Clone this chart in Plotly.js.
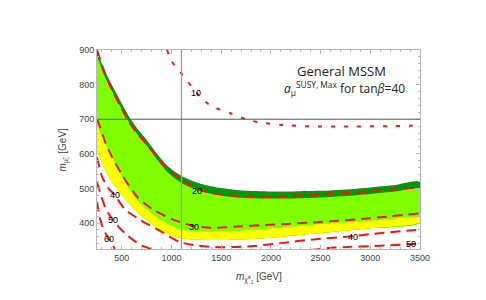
<!DOCTYPE html>
<html><head><meta charset="utf-8">
<script src="https://cdn.plot.ly/plotly-3.0.1.min.js"></script>
<style>html,body{margin:0;padding:0;background:#fff}#chart{width:486px;height:300px}</style>
</head><body><div id="chart"></div>
<script>
// Upper edge of dark green band
const b1X = [250,313,398,490,589,670,750,850,950,1035,1100,1200,1300,1500,1700,1900,2100,2300,2500,2750,3000,3250,3500];
const b1Y = [900,850,800,750,700,668,640,602,568,548,536,523,513,501,494,492,491,492,493,497,503,510,520];
// Dark green / light green boundary
const b2X = [250,313,398,490,589,670,750,850,950,1035,1100,1200,1300,1500,1700,1900,2100,2300,2500,2750,3000,3250,3500];
const b2Y = [884,833,783,734,684,652,624,585,550,529,516,502,491,479,473,471,471,472,474,478,484,491,500];
// Light green / yellow boundary
const b3X = [250,300,350,400,450,500,600,700,800,884,1000,1085,1200,1300,1500,1700,2000,2500,3000,3500];
const b3Y = [680,650,620,592,562,535,486,452,428,410,392,381,377,376,376,378,384,397,406,416];
// Yellow / white boundary
const b4X = [250,300,350,400,498,600,700,800,900,1000,1085,1200,1286,1500,1800,2100,2493,3000,3500];
const b4Y = [610,575,545,520,482,450,420,397,378,365,357,353,352,351,354,360,371,385,401];

// Contours of a_mu (labels 10..60)
const c10X = [955,1000,1085,1200,1286,1400,1588,1746,1900,2091,2423,2800,3200,3500];
const c10Y = [900,868,837,795,765,738,718,700,690,684,679,679,680,682];
const c20X = [250,320,400,480,555,650,750,850,950,1050,1150,1250,1400,1700,2100,2500,3000,3500];
const c20Y = [900,840,785,740,700,660,628,592,560,536,516,500,487,478,478,484,492,503];
const c30X = [250,280,335,400,500,657,808,1015,1216,1400,1618,1990,2493,3000,3500];
const c30Y = [700,678,632,592,540,475,440,410,392,386,389,395,403,414,428];
const c40X = [250,300,360,431,530,690,880,1085,1250,1500,1800,2100,2400,2829,3000,3500];
const c40Y = [590,535,502,480,440,408,378,345,335,330,333,342,352,362,368,381];
const c50X = [250,280,330,360,411,480,550,610,700,800,870,null,2400,2625,2800,3000,3200,3409,3500];
const c50Y = [518,490,447,430,410,385,366,352,335,325,320,null,322,329,331,333,336,339,341];
const c60X = [250,265,285,310,340,371,400,430];
const c60Y = [462,435,408,385,368,355,340,325];

const labelText = ['10','20','30','40','50','60','40','50'];
const labelX = [1243,1253,1226,431,414,371,2829,3409];
const labelY = [777,494,388,480,410,355,360,339];

const xTicks = [500,1000,1500,2000,2500,3000,3500];
const yTicks = [400,500,600,700,800,900];

function poly(xa, ya, xb, yb){
  return {x: xa.concat(xb.slice().reverse()), y: ya.concat(yb.slice().reverse())};
}
const dark = poly(b1X,b1Y,b4X,b4Y);
const light = poly(b2X,b2Y,b4X,b4Y);
const yel = poly(b3X,b3Y,b4X,b4Y);

const red = 'rgb(245,20,20)';
function band(p,color){
  return {x:p.x,y:p.y,fill:'toself',fillcolor:color,mode:'lines',type:'scatter',hoverinfo:'skip',showlegend:false,
    line:{width:0,color:color,shape:'spline',smoothing:0.5}};
}
function dashLine(x,y,dash){
  return {x:x,y:y,mode:'lines',type:'scatter',hoverinfo:'skip',showlegend:false,
    line:{color:red,width:2,dash:dash,shape:'spline',smoothing:0.6},connectgaps:false};
}
const traces = [
  band(dark,'rgb(0,155,0)'),
  band(light,'rgb(128,255,0)'),
  band(yel,'rgb(255,255,0)'),
  dashLine(c10X,c10Y,'4px,9px'),
  dashLine(c20X,c20Y,'10px,6px'),
  dashLine(c30X,c30Y,'10px,6px'),
  dashLine(c40X,c40Y,'10px,6px'),
  dashLine(c50X,c50Y,'10px,6px'),
  dashLine(c60X,c60Y,'10px,6px')
];

const sansT = 'Liberation Sans, Arial, sans-serif';
const annotations = labelText.map((t,i)=>({x:labelX[i],y:labelY[i],xref:'x',yref:'y',text:t,showarrow:false,
  xanchor:'center',yanchor:'middle',font:{family:sansT,size:9,color:'#000'}}));
annotations.push({xref:'paper',yref:'paper',x:0.758,y:0.896,xanchor:'center',yanchor:'middle',text:'General MSSM',showarrow:false,
  font:{family:'Open Sans, sans-serif',size:13,color:'#222'}});
annotations.push({xref:'paper',yref:'paper',x:0.573,y:0.805,xanchor:'left',yanchor:'middle',
  text:'<i>a</i><sub>μ</sub><sup>SUSY, Max</sup> for tan<i>β</i>=40',showarrow:false,
  font:{family:'Open Sans, sans-serif',size:12,color:'#222'}});
// axis titles
annotations.push({xref:'paper',yref:'paper',x:0.5,y:-0.145,xanchor:'center',yanchor:'middle',showarrow:false,
  text:'<i>m</i><sub>χ̃<sup>±</sup><sub>1</sub></sub> [GeV]',font:{family:sansT,size:10,color:'#444'}});
annotations.push({xref:'paper',yref:'paper',x:-0.105,y:0.5,xanchor:'center',yanchor:'middle',showarrow:false,textangle:-90,
  text:'<i>m</i><sub>μ̃<sub>L</sub></sub> [GeV]',font:{family:sansT,size:10,color:'#444'}});

const axisCommon = {
  showgrid:false, zeroline:false, showline:true, linecolor:'#b8b8b8', linewidth:1,
  mirror:'allticks', ticks:'inside', ticklen:4, tickcolor:'#b8b8b8', tickwidth:1,
  tickfont:{family:sansT,size:9,color:'#444'}
};
const layout = {
  width:486,height:300,margin:{l:97,r:66,t:50,b:51},
  paper_bgcolor:'#fff',plot_bgcolor:'#fff',
  xaxis:Object.assign({},axisCommon,{range:[250,3500],tickvals:xTicks,
    minor:{dtick:100,ticks:'inside',ticklen:2,tickcolor:'#b8b8b8'}}),
  yaxis:Object.assign({},axisCommon,{range:[325,900],tickvals:yTicks,
    minor:{dtick:20,ticks:'inside',ticklen:2,tickcolor:'#b8b8b8'}}),
  annotations:annotations,
  shapes:[
    {type:'line',xref:'x',yref:'paper',x0:1100,x1:1100,y0:0,y1:1,line:{color:'#999',width:1.3},layer:'above'},
    {type:'line',xref:'paper',yref:'y',x0:0,x1:1,y0:700,y1:700,line:{color:'#555',width:1},layer:'above'}
  ]
};
Plotly.newPlot('chart',traces,layout,{staticPlot:true,displayModeBar:false});
</script></body></html>
